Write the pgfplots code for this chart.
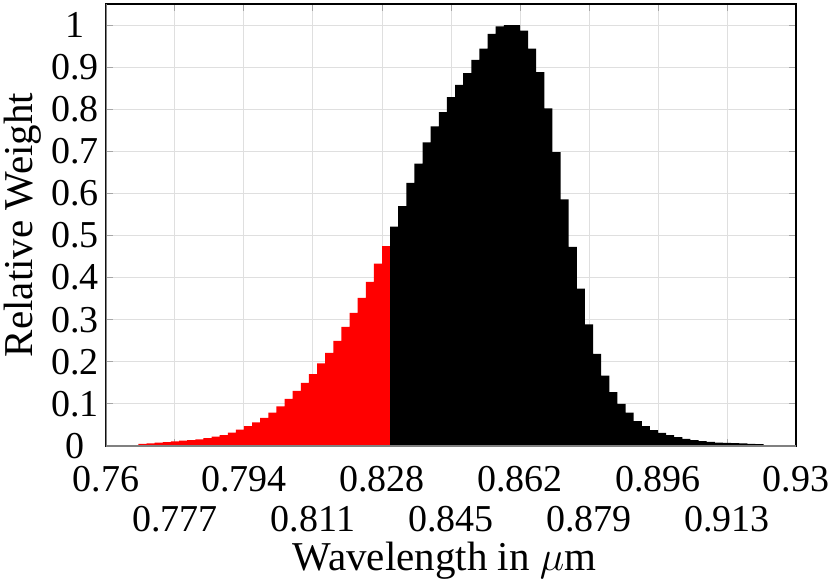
\documentclass[border=0pt]{standalone}
\usepackage{fontspec}
\setmainfont{Liberation Serif}
\usepackage{pgfplots}
\pgfplotsset{compat=1.18}
\begin{document}
\fontsize{19}{22}\selectfont
\begin{tikzpicture}
\path[use as bounding box] (-53pt,-69pt) rectangle (362pt,223pt);
\begin{axis}[
  at={(0,0)}, anchor=south west,
  scale only axis, width=345pt, height=221pt,
  xmin=0.76, xmax=0.93, ymin=0, ymax=1.05,
  xtick={0.76,0.794,0.828,0.862,0.896,0.93},
  xticklabels={0.76,0.794,0.828,0.862,0.896,0.93},
  extra x ticks={0.777,0.811,0.845,0.879,0.913},
  extra x tick labels={0.777,0.811,0.845,0.879,0.913},
  extra x tick style={grid=major, xticklabel style={yshift=-20.2pt}},
  ytick={0,0.1,0.2,0.3,0.4,0.5,0.6,0.7,0.8,0.9,1},
  yticklabels={0,0.1,0.2,0.3,0.4,0.5,0.6,0.7,0.8,0.9,1},
  xticklabel style={anchor=center, yshift=-16.4pt, inner sep=0.5pt},
  yticklabel style={anchor=center, xshift=-15.5pt, inner sep=0.5pt},
  /pgf/number format/assume math mode=true,
  grid=major,
  major grid style={gray!25, line width=0.5pt},
  tick align=inside, major tick length=3.5pt,
  tick style={gray!70, line width=0.5pt},
  axis line style={black, line width=0.6pt},
  xlabel={Wavelength in $\mu$m},
  ylabel={Relative Weight},
  label style={font=\fontsize{20.5}{24}\selectfont, inner sep=0.5pt},
  xlabel style={at={([yshift=-62pt]axis description cs:0.4906,0)}, anchor=base},
  ylabel style={at={([xshift=-36.5pt]axis description cs:0,0.5)}, anchor=base},
]
\addplot[const plot, fill=red, draw=none] coordinates {
(0.768,0.005) (0.770,0.006) (0.772,0.008) (0.774,0.0095) (0.776,0.011)
(0.778,0.013) (0.780,0.014) (0.782,0.016) (0.784,0.019) (0.786,0.022)
(0.788,0.026) (0.790,0.032) (0.792,0.039) (0.794,0.047) (0.796,0.056)
(0.798,0.067) (0.800,0.079) (0.802,0.094) (0.804,0.112) (0.806,0.131)
(0.808,0.150) (0.810,0.171) (0.812,0.196) (0.814,0.221) (0.816,0.250)
(0.818,0.283) (0.820,0.316) (0.822,0.352) (0.824,0.390) (0.826,0.433)
(0.828,0.475) (0.830,0.475)
} \closedcycle;
\addplot[const plot, fill=black, draw=none] coordinates {
(0.830,0.521) (0.832,0.570) (0.834,0.625) (0.836,0.671) (0.838,0.721)
(0.840,0.759) (0.842,0.793) (0.844,0.829) (0.846,0.858) (0.848,0.886)
(0.850,0.917) (0.852,0.944) (0.854,0.979) (0.856,0.997) (0.858,1.0)
(0.860,1.0) (0.862,0.987) (0.864,0.944) (0.866,0.888) (0.868,0.802)
(0.870,0.698) (0.872,0.586) (0.874,0.473) (0.876,0.374) (0.878,0.289)
(0.880,0.219) (0.882,0.167) (0.884,0.128) (0.886,0.100) (0.888,0.079)
(0.890,0.059) (0.892,0.047) (0.894,0.038) (0.896,0.031) (0.898,0.026)
(0.900,0.021) (0.902,0.017) (0.904,0.014) (0.906,0.0115) (0.908,0.010)
(0.910,0.008) (0.912,0.0075) (0.914,0.007) (0.916,0.006) (0.918,0.005)
(0.920,0.0045) (0.922,0.0045)
} \closedcycle;
\draw[black, line width=0.6pt] (rel axis cs:0,1) -- (rel axis cs:1,1) -- (rel axis cs:1,0);
\draw[gray, line width=0.6pt] (rel axis cs:1,0) -- (rel axis cs:0,0) -- (rel axis cs:0,1);
\end{axis}
\end{tikzpicture}
\end{document}
